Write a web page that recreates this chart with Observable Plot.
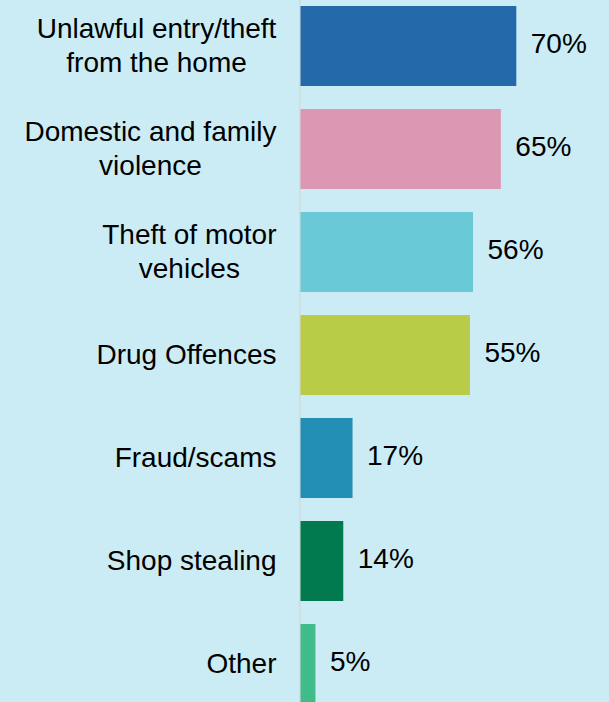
<!DOCTYPE html>
<html>
<head>
<meta charset="utf-8">
<script src="https://cdn.jsdelivr.net/npm/d3@7"></script>
<script src="https://cdn.jsdelivr.net/npm/@observablehq/plot@0.6"></script>
<style>
  html, body { margin: 0; padding: 0; background: #cbecf5; overflow: hidden; }
  #chart svg { display: block; }
</style>
</head>
<body>
<div id="chart"></div>
<script>
const categories = [
  "Unlawful entry/theft from the home",
  "Domestic and family violence",
  "Theft of motor vehicles",
  "Drug Offences",
  "Fraud/scams",
  "Shop stealing",
  "Other"
];
const tickLabels = [
  "Unlawful entry/theft\nfrom the home",
  "Domestic and family\nviolence",
  "Theft of motor\nvehicles",
  "Drug Offences",
  "Fraud/scams",
  "Shop stealing",
  "Other"
];
const values = [70, 65, 56, 55, 17, 14, 5];
const colors = ["#2469a9", "#dc97b2", "#69c9d7", "#b8cc47", "#228eb3", "#007a4e", "#40bc8a"];

const data = categories.map((c, i) => ({
  category: c, label: tickLabels[i], value: values[i], color: colors[i]
}));

const chart = Plot.plot({
  width: 609,
  height: 709,
  marginLeft: 300,
  marginRight: 0,
  marginTop: 0,
  marginBottom: 0,
  style: { background: "#cbecf5", fontFamily: "'Liberation Sans', Arial, sans-serif" },
  x: { domain: [0, 100], axis: null },
  y: { domain: categories, paddingInner: 0.2246, paddingOuter: 0.0485, axis: null },
  marks: [
    Plot.barX(data, { x: "value", y: "category", fill: "color" }),
    Plot.ruleX([0], { stroke: "#d9d9d9", strokeWidth: 1.5, dx: -0.75 }),
    Plot.text(data, {
      x: 0, y: "category", text: "label", textAnchor: "end", dx: -24, dy: -2,
      fontSize: 28, lineHeight: 1.2, fill: "#000"
    }),
    Plot.text(data, {
      x: "value", y: "category", text: d => d.value + "%", textAnchor: "start", dx: 14, dy: -2,
      fontSize: 28, fill: "#000"
    })
  ]
});
document.getElementById("chart").appendChild(chart);

// center multi-line labels within their block, keeping the block right-aligned
chart.querySelectorAll('g[text-anchor="end"] text').forEach(t => {
  const w = t.getBBox().width;
  t.setAttribute("text-anchor", "middle");
  t.querySelectorAll("tspan").forEach(s => s.setAttribute("text-anchor", "middle"));
  t.setAttribute("transform", (t.getAttribute("transform") || "") + ` translate(${-w / 2},0)`);
});
</script>
</body>
</html>
